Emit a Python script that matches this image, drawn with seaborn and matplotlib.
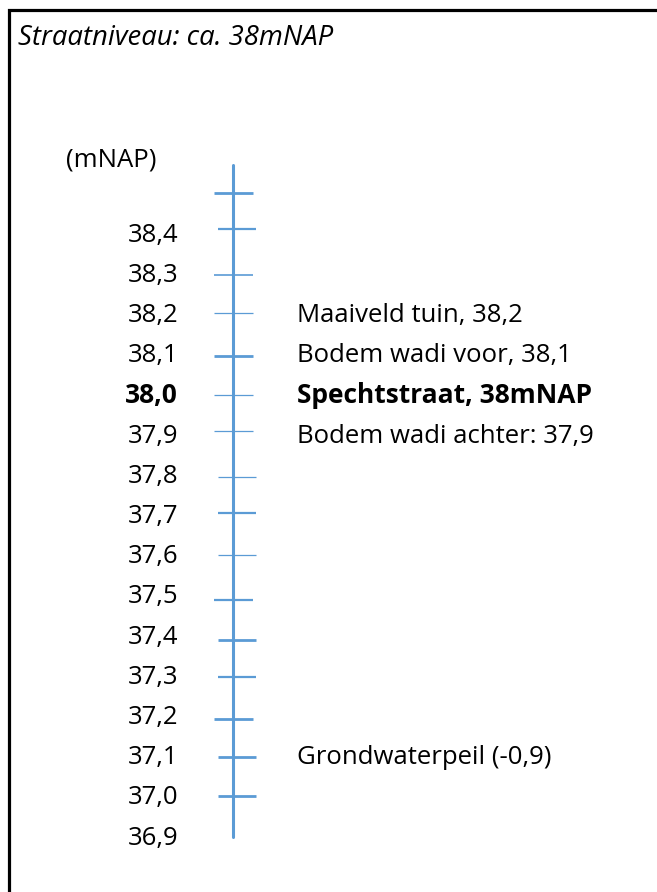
import matplotlib
matplotlib.use("Agg")
import matplotlib.pyplot as plt
import seaborn as sns
import pandas as pd
from matplotlib.patches import Rectangle

# ---- data ----
level_labels = ["38,4", "38,3", "38,2", "38,1", "38,0", "37,9", "37,8", "37,7",
                "37,6", "37,5", "37,4", "37,3", "37,2", "37,1", "37,0", "36,9"]
level_values = [38.4, 38.3, 38.2, 38.1, 38.0, 37.9, 37.8, 37.7,
                37.6, 37.5, 37.4, 37.3, 37.2, 37.1, 37.0, 36.9]
tick_levels = [38.497, 38.407, 38.293, 38.198, 38.092, 37.995, 37.905, 37.79,
               37.70, 37.597, 37.485, 37.385, 37.293, 37.189, 37.094, 36.997]
tick_weight = ["heavy", "mid", "light", "thin", "heavy", "thin", "thin", "thin",
               "mid", "thin", "mid", "heavy", "mid", "heavy", "heavy", "heavy"]
tick_shift = ["L", "R", "L", "L", "L", "L", "L", "R",
              "R", "R", "L", "R", "R", "L", "R", "R"]
axis_range = [38.567, 36.895]
annot_values = [38.2, 38.1, 38.0, 37.9, 37.1]
annot_texts = ["Maaiveld tuin, 38,2", "Bodem wadi voor, 38,1",
               "Spechtstraat, 38mNAP", "Bodem wadi achter: 37,9",
               "Grondwaterpeil (-0,9)"]
bold_value = 38.0
title = "Straatniveau: ca. 38mNAP"
unit_label = "(mNAP)"

# ---- styles ----
BLUE = "#5B9BD5"
W, H = 657, 892
FONT = "Open Sans"
FS = 18.5
FS_BOLD = 19.0
FS_TITLE = 19.8
px_per_unit = 402.0
dy = 3 / px_per_unit
y_top = 38.4 + 232 / px_per_unit
y_bot = 38.4 - (H - 232) / px_per_unit

sns.set_theme(style="white")
plt.rcParams["font.family"] = [FONT, "DejaVu Sans"]

fig = plt.figure(figsize=(W / 100, H / 100), dpi=100)
ax = fig.add_axes([0, 0, 1, 1])
ax.set_xlim(0, W)
ax.set_ylim(y_bot, y_top)
ax.axis("off")

# main vertical line
df_line = pd.DataFrame({"x": [232.5, 232.5], "y": axis_range})
sns.lineplot(data=df_line, x="x", y="y", sort=False, orient="y",
             color=BLUE, linewidth=2.2, ax=ax, estimator=None)

# ticks
lw_map = {"heavy": 2.0, "mid": 1.6, "light": 1.2, "thin": 0.9}
ext_map = {"L": (214, 253), "R": (218, 256)}
for lv, wgt, sh in zip(tick_levels, tick_weight, tick_shift):
    x0, x1 = ext_map[sh]
    ax.hlines(lv, x0, x1, color=BLUE, linewidth=lw_map[wgt])

# level labels
for lab, val in zip(level_labels, level_values):
    b = val == bold_value
    ax.text(178, val - dy, lab, ha="right", va="center",
            fontsize=FS_BOLD if b else FS, color="black",
            fontweight="bold" if b else "normal")

# annotations
for val, txt in zip(annot_values, annot_texts):
    b = val == bold_value
    ax.text(297, val - dy, txt, ha="left", va="center",
            fontsize=FS_BOLD if b else FS, color="black",
            fontweight="bold" if b else "normal")

# unit and title
ax.text(66, 38.4 + (232 - 157) / px_per_unit - dy, unit_label, ha="left",
        va="center", fontsize=FS, color="black")
ax.text(18, 38.4 + (232 - 35) / px_per_unit - dy, title, ha="left",
        va="center", fontsize=FS_TITLE, color="black", style="italic")

# frame
fig.patches.append(Rectangle((8.5 / W, -0.1), 1.2, (H - 9.5) / H + 0.1,
                             transform=fig.transFigure, fill=False,
                             edgecolor="black", linewidth=2.3))

fig.savefig("out.png", dpi=100)
